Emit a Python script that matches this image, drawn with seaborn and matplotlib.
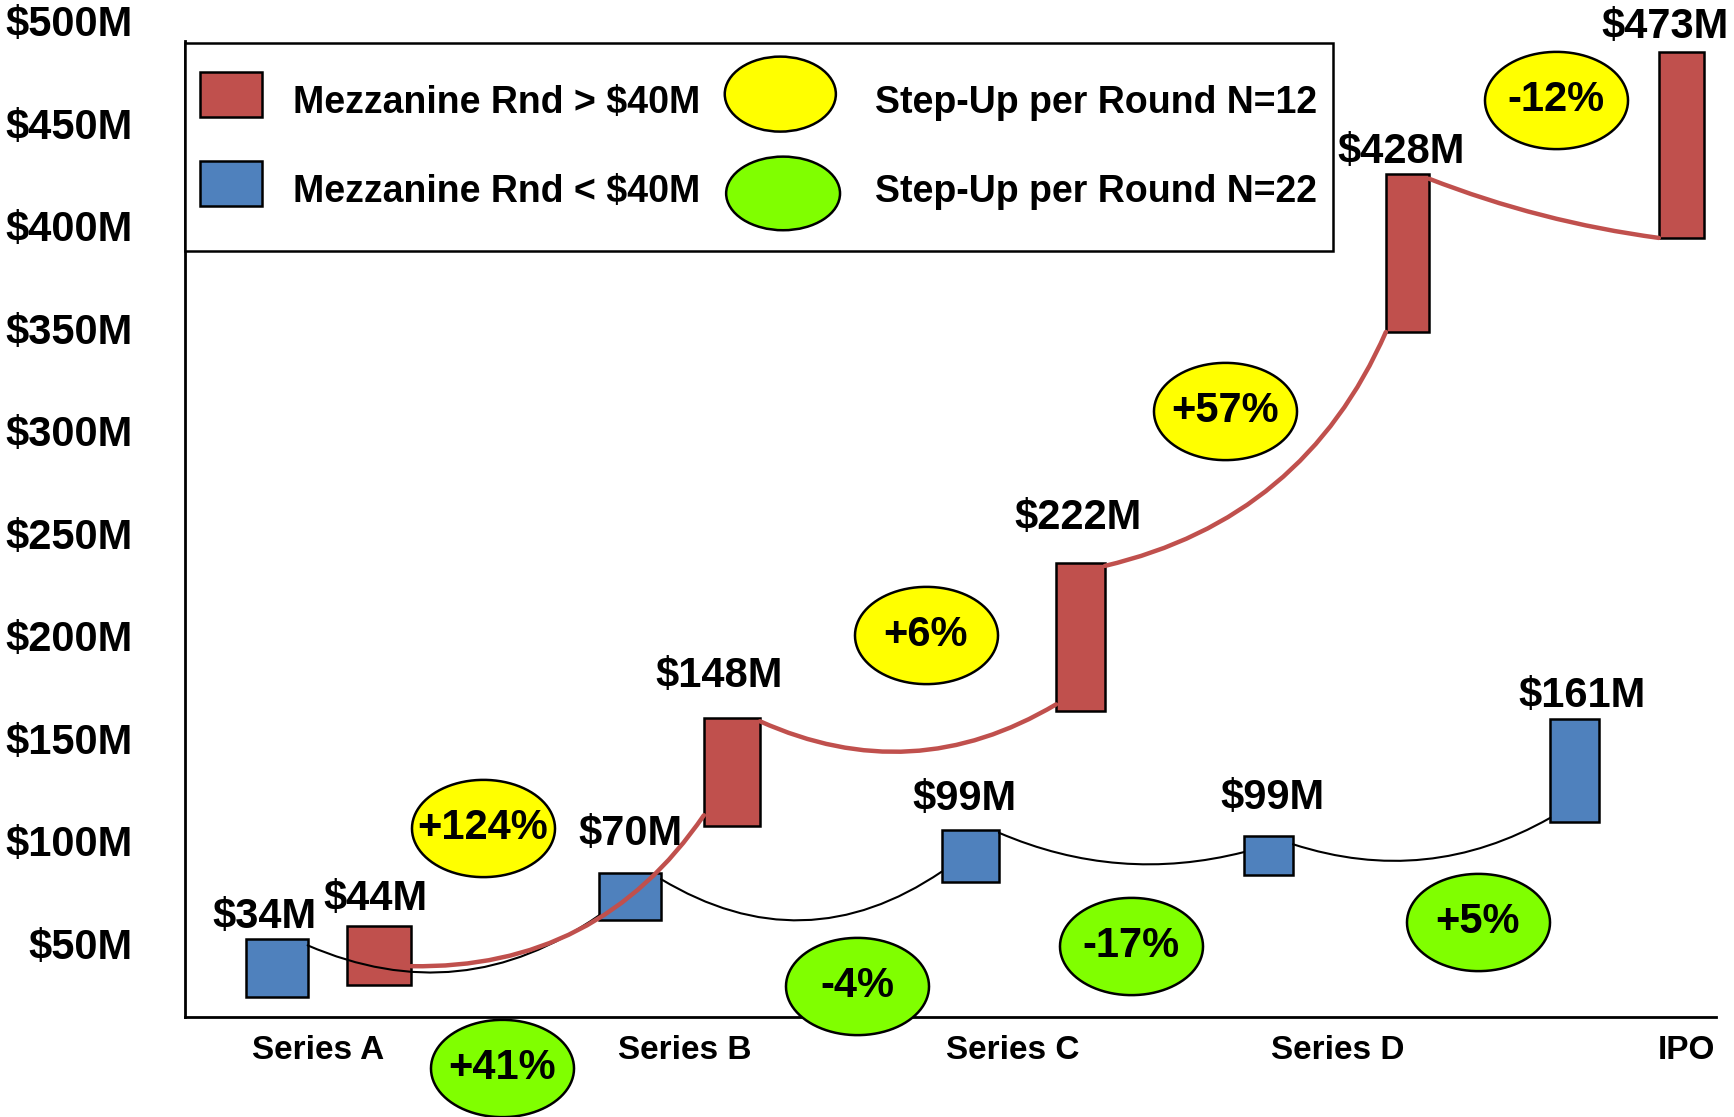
import numpy as np
import matplotlib
matplotlib.use("Agg")
import matplotlib.pyplot as plt
from matplotlib.path import Path
from matplotlib.patches import Patch, Rectangle, Ellipse
from matplotlib.legend_handler import HandlerPatch
import seaborn as sns

# funding rounds along the x axis
rounds = ["Series A", "Series B", "Series C", "Series D", "IPO"]
round_pos = [0, 1.07, 2.03, 2.98, 4.0]

# mezzanine round < $40M (blue boxes), $M
small_val = [34, 70, 99, 99, 161]
small_x = [-0.122, 0.911, 1.906, 2.778, 3.673]
small_low = [23.6, 61.2, 79.8, 83.2, 109.1]
small_high = [52.0, 84.2, 105.1, 102.2, 159.3]

# mezzanine round > $40M (red boxes), $M
big_val = [44, 148, 222, 428, 473]
big_x = [0.177, 1.209, 2.228, 3.184, 3.985]
big_low = [29.5, 107.1, 163.2, 348.2, 394.1]
big_high = [58.3, 159.8, 235.5, 425.3, 484.8]

# step-up per round bubbles (%)
step12 = [124, 6, 57, -12]
step12_x = [0.480, 1.775, 2.650, 3.617]
step12_y = [106.0, 200.4, 309.4, 461.4]
step22 = [41, -4, -17, 5]
step22_x = [0.537, 1.576, 2.377, 3.389]
step22_y = [-11.2, 29.1, 48.5, 60.3]

yticks = [50, 100, 150, 200, 250, 300, 350, 400, 450, 500]

RED = "#C0504D"
BLUE = "#4F81BD"
YELLOW = "#FFFF00"
GREEN = "#80FF00"


def plot():
    sns.set_theme(style="white")
    plt.rcParams["font.family"] = ["Liberation Sans", "DejaVu Sans"]
    plt.rcParams["font.weight"] = "bold"
    plt.rcParams["text.color"] = "black"

    fig = plt.figure(figsize=(17.34, 11.17), dpi=100)
    ax = fig.add_axes([0.1067, 0.0895, 0.8829, 0.9105])
    ax.set_xlim(-0.390, 4.086)
    ax.set_ylim(13.9, 510.2)

    # boxes
    small_w = [0.181, 0.181, 0.167, 0.143, 0.143]
    big_w = [0.187, 0.164, 0.143, 0.126, 0.132]
    ax.bar(small_x, np.subtract(small_high, small_low), bottom=small_low, width=small_w,
           color=BLUE, edgecolor="black", linewidth=1.8, zorder=3)
    ax.bar(big_x, np.subtract(big_high, big_low), bottom=big_low, width=big_w,
           color=RED, edgecolor="black", linewidth=1.8, zorder=3)

    # value labels above boxes (offsets in points)
    small_off = [(-8.6, 15.8), (0, 28.1), (-4.3, 22.3), (2.9, 27.4), (5, 16.6)]
    big_off = [(-2.2, 19.4), (-9.4, 30.2), (-1.4, 32.4), (-4.3, 15.8), (-12, 18)]
    for xs, tops, vals, offs in [(small_x, small_high, small_val, small_off),
                                 (big_x, big_high, big_val, big_off)]:
        for x, top, v, off in zip(xs, tops, vals, offs):
            ax.annotate(f"${v}M", xy=(x, top), xytext=off, textcoords="offset points",
                        ha="center", va="center", fontsize=30, fontweight="bold",
                        color="black", annotation_clip=False, zorder=5)

    # curved connectors: right side of one box to left-bottom of the next
    def connect(xs, ws, lows, highs, fa, fb, rads, color, lw, z):
        for i in range(len(xs) - 1):
            start = (xs[i] + ws[i] / 2, lows[i] + fa[i] * (highs[i] - lows[i]))
            end = (xs[i + 1] - ws[i + 1] / 2, lows[i + 1] + fb[i] * (highs[i + 1] - lows[i + 1]))
            ax.annotate("", xy=end, xytext=start,
                        arrowprops=dict(arrowstyle="-", connectionstyle=f"arc3,rad={rads[i]}",
                                        color=color, lw=lw, shrinkA=0, shrinkB=0),
                        zorder=z)

    connect(small_x, small_w, small_low, small_high,
            [0.89, 0.87, 0.95, 0.79], [0.1, 0.2, 0.59, 0.04],
            [0.28, 0.32, 0.17, 0.22], "black", 1.5, 3.4)
    connect(big_x, big_w, big_low, big_high,
            [0.32, 0.97, 0.98, 0.97], [0.1, 0.045, 0.0, 0.0],
            [0.27, 0.26, 0.25, 0.06], RED, 3.2, 3.5)

    # step-up bubbles
    t = np.linspace(0, 2 * np.pi, 91)
    oval = Path(np.column_stack([np.cos(t), 0.68 * np.sin(t)]), closed=True)
    for xs, ys, vals, col in [(step12_x, step12_y, step12, YELLOW),
                              (step22_x, step22_y, step22, GREEN)]:
        sns.scatterplot(x=xs, y=ys, marker=oval, s=103 ** 2, color=col, edgecolor="black",
                        linewidth=1.8, zorder=4, clip_on=False, legend=False, ax=ax)
        for x, y, v in zip(xs, ys, vals):
            ax.text(x, y, f"{v:+d}%", ha="center", va="center", fontsize=30,
                    fontweight="bold", color="black", zorder=5, clip_on=False)

    # axes
    ax.set_yticks(yticks, labels=[f"${v}M" for v in yticks], fontsize=30, fontweight="bold")
    ax.set_xticks(round_pos, labels=rounds, fontsize=24, fontweight="bold")
    ax.tick_params(axis="y", length=0, pad=38, colors="black")
    ax.tick_params(axis="x", length=0, pad=13, colors="black")
    ax.spines[["top", "right"]].set_visible(False)
    for s in ["left", "bottom"]:
        ax.spines[s].set_color("black")
        ax.spines[s].set_linewidth(2)
    ax.spines["left"].set_bounds(13.9, 490.0)
    ax.grid(False)

    # legend
    def square_key(legend, orig_handle, xdescent, ydescent, width, height, fontsize):
        w, h = 44.6, 32.4
        return Rectangle((-xdescent + (width - w) / 2, -ydescent + (height - h) / 2 + 6), w, h)

    def yellow_key(legend, orig_handle, xdescent, ydescent, width, height, fontsize):
        return Ellipse((-xdescent - 1.5, -ydescent + height / 2 + 6), 80, 54)

    def green_key(legend, orig_handle, xdescent, ydescent, width, height, fontsize):
        return Ellipse((0.5 - xdescent, -ydescent + height / 2 - 1.5), 82, 53)

    handles = [Patch(facecolor=RED, edgecolor="black", linewidth=1.8),
               Patch(facecolor=BLUE, edgecolor="black", linewidth=1.8),
               Patch(facecolor=YELLOW, edgecolor="black", linewidth=1.8),
               Patch(facecolor=GREEN, edgecolor="black", linewidth=1.8)]
    labels = ["Mezzanine Rnd > $40M", "Mezzanine Rnd < $40M",
              "Step-Up per Round N=12", "Step-Up per Round N=22"]
    hmap = {handles[0]: HandlerPatch(patch_func=square_key),
            handles[1]: HandlerPatch(patch_func=square_key),
            handles[2]: HandlerPatch(patch_func=yellow_key),
            handles[3]: HandlerPatch(patch_func=green_key)}
    leg = ax.legend(handles, labels, ncol=2, loc="upper left",
                    bbox_to_anchor=(0, 1 - 43 / 1017), borderaxespad=0,
                    prop={"size": 27, "weight": "bold"}, handlelength=1.65,
                    handleheight=3.27, handletextpad=0.83, columnspacing=2.19,
                    labelspacing=0.0, borderpad=0.4, frameon=True, fancybox=False,
                    framealpha=1, edgecolor="black", handler_map=hmap)
    leg.get_frame().set_linewidth(1.8)
    for txt in leg.get_texts():
        txt.set_color("black")

    fig.savefig("out.png", dpi=100)
    plt.close(fig)


if __name__ == "__main__":
    plot()
